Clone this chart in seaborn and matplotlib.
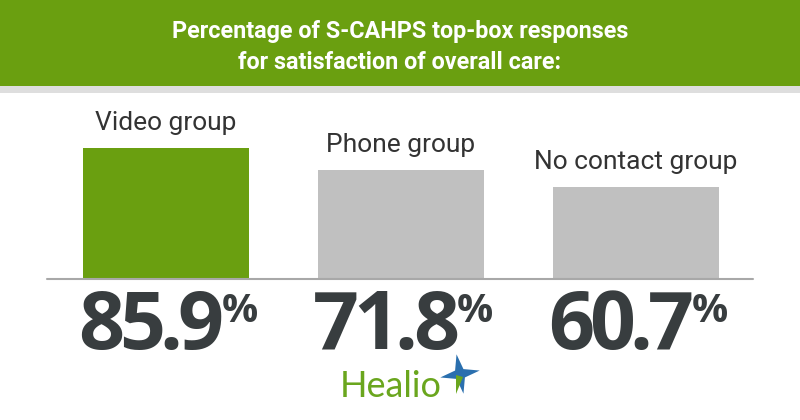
import matplotlib
matplotlib.use("Agg")
import matplotlib.pyplot as plt
from matplotlib.patches import Rectangle, Polygon
import numpy as np
import seaborn as sns

categories = ["Video group", "Phone group", "No contact group"]
values = [85.9, 71.8, 60.7]
value_labels = ["85.9", "71.8", "60.7"]
title_lines = ["Percentage of S-CAHPS top-box responses",
               "for satisfaction of overall care:"]

GREEN = "#6a9f10"
GRAY = "#c0c0c0"
DARK = "#383d3f"

sns.set_theme(style="white")
plt.rcParams["font.family"] = ["Roboto", "DejaVu Sans"]

W, H = 800, 420
fig = plt.figure(figsize=(W / 100, H / 100), dpi=100)
fig.patch.set_facecolor("white")

def fx(px):
    return px / W

def fy(py):
    return 1 - py / H

# header band
fig.patches.append(Rectangle((0, fy(86)), 1, 86 / H, transform=fig.transFigure,
                             facecolor=GREEN, edgecolor="none", zorder=0))
fig.patches.append(Rectangle((0, fy(93)), 1, 7 / H, transform=fig.transFigure,
                             facecolor="#dedede", edgecolor="none", zorder=0))

for line, yb in zip(title_lines, (38, 69)):
    fig.text(0.5, fy(yb), line, ha="center", va="baseline", color="white",
             fontsize=16.8, fontweight="bold",
             family=["Liberation Sans Narrow", "Roboto"])

# bar axes: left 47px, right 753px, baseline at 279px, 1.52px per %
ax_left, ax_right = 47, 753
base_y = 279
px_per_unit = 1.52
ax_h = 100 * px_per_unit
ax = fig.add_axes([fx(ax_left), fy(base_y), (ax_right - ax_left) / W, ax_h / H])
sns.barplot(x=categories, y=values, hue=categories, palette=[GREEN, GRAY, GRAY],
            legend=False, width=0.707, saturation=1, ax=ax, edgecolor="none")
ax.set_xlim(-0.506, 2.5)
ax.set_ylim(0, 100)
ax.axis("off")
ax.axhline(0, color="#a8a8a8", lw=1.5, zorder=5, clip_on=False)

for i, (cat, v) in enumerate(zip(categories, values)):
    ax.annotate(cat, xy=(i, v), xytext=(0, 13), textcoords="offset points",
                ha="center", va="baseline", fontsize=19, color="#333333")

# big numbers, drawn glyph by glyph with tight tracking
renderer = fig.canvas.get_renderer()
num_kw = dict(fontsize=58, fontweight="bold", color=DARK,
              family=["Open Sans", "DejaVu Sans"], va="baseline", ha="left")
track = -5  # px between glyph boxes

def char_width(ch):
    t = fig.text(0, 0, ch, **num_kw)
    w = t.get_window_extent(renderer).width
    t.remove()
    return w

for i, lab in enumerate(value_labels):
    xc = ax.transData.transform((i, 0))[0]
    widths = [char_width(c) for c in lab]
    total = sum(widths) + track * (len(lab) - 1)
    x = xc + 58 - total
    for c, w in zip(lab, widths):
        fig.text(fx(x), fy(349), c, **num_kw)
        x += w + track
    fig.text(fx(xc + 56), fy(322), "%", ha="left", va="baseline", fontsize=29,
             fontweight="bold", color=DARK, family=["Open Sans", "DejaVu Sans"])

# Healio logo
fig.text(fx(340), fy(397), "Healio", ha="left", va="baseline", fontsize=26,
         color="#6aa61e", family=["Lato", "DejaVu Sans"])
cx, cy = 460, 374
ang = np.deg2rad(np.arange(0, 360, 45) + 100)
rad = np.array([20, 6, 20, 6, 20, 6, 20, 6])
pts = [(fx(cx + r * np.cos(a)), fy(cy - r * np.sin(a))) for r, a in zip(rad, ang)]
fig.patches.append(Polygon(pts, closed=True, transform=fig.transFigure,
                           facecolor="#2a6fae", edgecolor="none"))
gpts = [(fx(cx - 4), fy(cy + 1)), (fx(cx + 3), fy(cy + 3)), (fx(cx - 4), fy(cy + 20))]
fig.patches.append(Polygon(gpts, closed=True, transform=fig.transFigure,
                           facecolor="#6aa61e", edgecolor="none"))

fig.savefig("out.png", dpi=100, facecolor="white")
